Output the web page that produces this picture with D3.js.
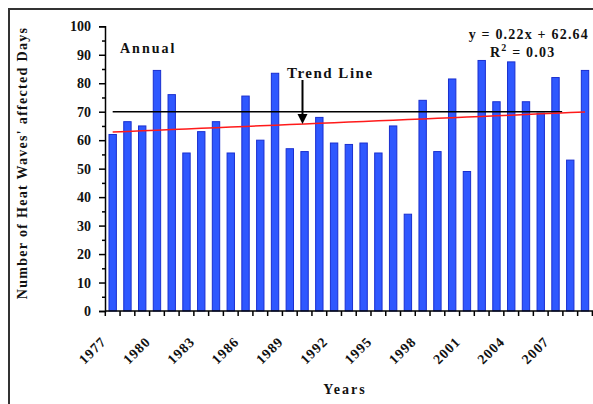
<!DOCTYPE html>
<html><head><meta charset="utf-8">
<script src="https://cdn.jsdelivr.net/npm/d3@7"></script>
<style>body{margin:0;background:#fff}svg{display:block}text{font-family:"Liberation Serif","Times New Roman",serif;fill:#111}</style>
</head><body><svg id="c" width="593" height="404"></svg>
<script>
const years = d3.range(1977, 2010);
const days = [62, 66.5, 65, 84.5, 76, 55.5, 63, 66.5, 55.5, 75.5, 60, 83.5, 57, 56, 68, 59, 58.5, 59, 55.5, 65, 34, 74, 56, 81.5, 49, 88, 73.5, 87.5, 73.5, 69.5, 82, 53, 84.5];
const yTicks = d3.range(0, 101, 10);
const xLabelYears = d3.range(1977, 2008, 3);
const trendSlope = 0.22, trendIntercept = 62.64;
const refValue = 70, refEndYear = 2007;

const svg = d3.select("#c");
// outer frame
svg.append("rect").attr("x", 9).attr("y", 9).attr("width", 700).attr("height", 500)
  .attr("fill", "none").attr("stroke", "#333").attr("stroke-width", 2);

const x = d3.scaleBand().domain(years).range([105.3, 592.4]).paddingInner(0.5).paddingOuter(0.25);
const y = d3.scaleLinear().domain([0, 100]).range([311, 26.3]);
const step = x.step();
const cx = yr => x(yr) + x.bandwidth() / 2;

// bars
svg.append("g").selectAll("rect").data(years).join("rect")
  .attr("x", d => x(d)).attr("width", x.bandwidth())
  .attr("y", (d, i) => y(days[i])).attr("height", (d, i) => y(0) - y(days[i]))
  .attr("fill", "#2f58ff").attr("stroke", "#1a2fd0").attr("stroke-width", 1);

// y axis
const yAxis = d3.axisLeft(y).tickValues(yTicks).tickSize(6).tickPadding(8);
const gy = svg.append("g").attr("transform", "translate(105,0)").call(yAxis);
gy.select(".domain").attr("stroke", "#000").attr("stroke-width", 1.5);
gy.selectAll(".tick line").attr("stroke", "#000").attr("stroke-width", 1.5);
gy.selectAll("text").attr("font-size", 14).attr("font-weight", "bold").attr("font-family", "Liberation Serif");
const gyMinor = svg.append("g").attr("transform", "translate(105,0)")
  .call(d3.axisLeft(y).tickValues(d3.range(5, 100, 10)).tickSize(3).tickFormat(""));
gyMinor.select(".domain").remove();
gyMinor.selectAll(".tick line").attr("stroke", "#000").attr("stroke-width", 1.5);

// x axis line + ticks at band boundaries
svg.append("line").attr("x1", 105).attr("x2", 593).attr("y1", y(0)).attr("y2", y(0))
  .attr("stroke", "#000").attr("stroke-width", 1.5);
svg.append("g").selectAll("line").data(years.concat([2010])).join("line")
  .attr("x1", d => x.range()[0] + (d - 1977) * step).attr("x2", d => x.range()[0] + (d - 1977) * step)
  .attr("y1", y(0)).attr("y2", y(0) + 5).attr("stroke", "#000").attr("stroke-width", 1.5);

svg.append("g").selectAll("text").data(xLabelYears).join("text")
  .attr("transform", d => `translate(${cx(d) - 9},${339}) rotate(-45)`)
  .attr("text-anchor", "end").attr("dy", "0.35em")
  .attr("font-size", 14).attr("font-weight", "bold").attr("letter-spacing", 1)
  .text(d => d);

// reference line at 70
svg.append("line").attr("x1", cx(1977)).attr("x2", cx(refEndYear) + step * 0.45)
  .attr("y1", y(refValue)).attr("y2", y(refValue)).attr("stroke", "#000").attr("stroke-width", 1.5);

// trend line
const trend = years.map((yr, i) => [cx(yr), y(trendIntercept + trendSlope * (i + 1))]);
svg.append("path").attr("d", d3.line()(trend)).attr("fill", "none").attr("stroke", "#ff1a1a").attr("stroke-width", 1.5);

// texts
svg.append("text").attr("x", 120).attr("y", 53).attr("font-size", 14).attr("font-weight", "bold").attr("letter-spacing", 2).text("Annual");
svg.append("text").attr("x", 287).attr("y", 78).attr("font-size", 15).attr("font-weight", "bold").attr("letter-spacing", 1.5).text("Trend Line");
svg.append("text").attr("x", 589).attr("y", 39).attr("text-anchor", "end").attr("font-size", 14).attr("font-weight", "bold").attr("letter-spacing", 1.2).text("y = 0.22x + 62.64");
const r = svg.append("text").attr("x", 490).attr("y", 57).attr("font-size", 14).attr("font-weight", "bold").attr("letter-spacing", 1.2);
r.append("tspan").text("R");
r.append("tspan").attr("dy", -6).attr("font-size", 10).text("2");
r.append("tspan").attr("dy", 6).text(" = 0.03");

// arrow
svg.append("line").attr("x1", 302.5).attr("x2", 302.5).attr("y1", 80).attr("y2", 116).attr("stroke", "#000").attr("stroke-width", 2);
svg.append("path").attr("d", d3.line()([[297.5, 114], [307.5, 114], [302.5, 124]])).attr("fill", "#000");

svg.append("text").attr("x", 345).attr("y", 394).attr("text-anchor", "middle").attr("font-size", 14).attr("font-weight", "bold").attr("letter-spacing", 2).text("Years");
svg.append("text").attr("transform", "translate(27,163) rotate(-90)").attr("text-anchor", "middle")
  .attr("font-size", 14).attr("font-weight", "bold").attr("letter-spacing", 1.3).text("Number of Heat Waves' affected Days");
</script></body></html>
